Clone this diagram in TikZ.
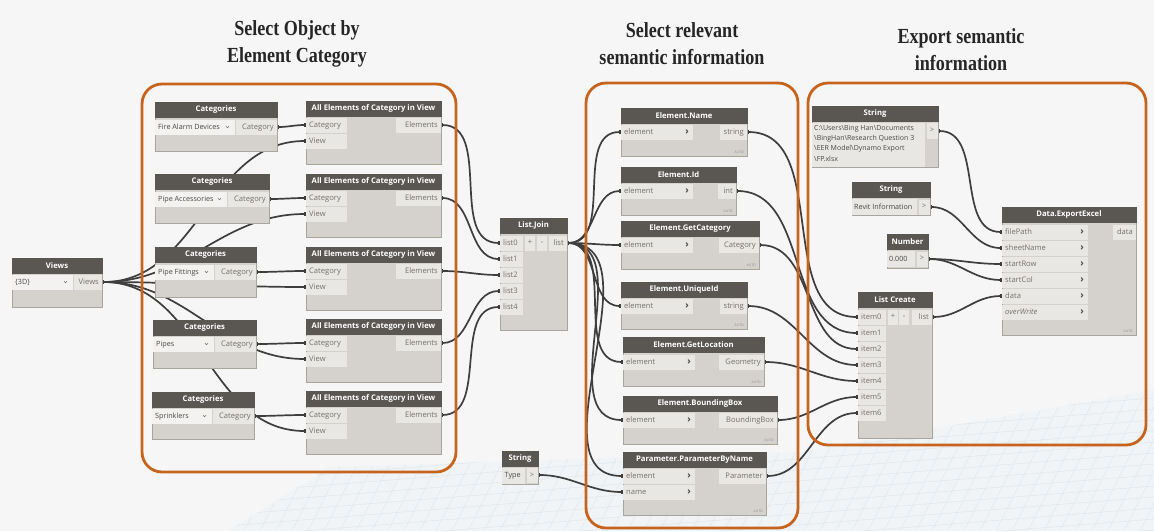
\documentclass[tikz,border=0pt]{standalone}
\usepackage{fontspec}
\setmainfont{Open Sans}
\newfontfamily\titlefont[FakeStretch=0.84]{Liberation Serif}
\usetikzlibrary{fit,arrows.meta,calc}

\definecolor{bgc}{HTML}{F6F6F6}
\definecolor{hdr}{HTML}{5A5753}
\definecolor{bodyc}{HTML}{D5D2CD}
\definecolor{portc}{HTML}{E9E7E3}
\definecolor{dropc}{HTML}{F3F2F0}
\definecolor{bord}{HTML}{A8A49E}
\definecolor{txtc}{HTML}{75716C}
\definecolor{darktxt}{HTML}{4A4845}
\definecolor{wirec}{HTML}{3E3E3E}
\definecolor{grpc}{HTML}{C6631D}
\definecolor{gridc}{HTML}{DCE4EA}
\definecolor{floorc}{HTML}{F1F4F6}

\pgfdeclarelayer{ground}
\pgfdeclarelayer{wires}
\pgfdeclarelayer{front}
\pgfsetlayers{ground,wires,main,front}

\tikzset{
  nbody/.style={fill=bodyc, draw=bord, line width=0.6pt, inner sep=0pt},
  nhead/.style={fill=hdr, draw=hdr, line width=0.6pt, inner sep=0pt},
  htxt/.style={text=white, inner sep=0pt, font=\bfseries\fontsize{7.7}{8}\selectfont},
  ptxt/.style={text=txtc, inner sep=0pt, text height=5.2pt, text depth=1.6pt,
    font=\fontsize{7.6}{8}\selectfont},
  dtxt/.style={ptxt, text=darktxt, font=\fontsize{7.2}{8}\selectfont},
  arrt/.style={text=darktxt, inner sep=0pt, font=\bfseries\fontsize{9.5}{9}\selectfont},
  autot/.style={text=txtc!80, inner sep=0pt, font=\fontsize{3.4}{4}\selectfont},
  chev/.style={draw=txtc, line width=0.5pt},
  wire/.style={draw=wirec, line width=1.7pt,
    {Rectangle[length=2pt,width=4.8pt]}-{Rectangle[length=2pt,width=4.8pt]}},
  grp/.style={draw=grpc, line width=2.8pt, rounded corners=20pt},
  ttl/.style={align=center, text=black!85, inner sep=0pt,
    font=\titlefont\bfseries\fontsize{21.5}{27}\selectfont},
  gridline/.style={draw=gridc, line width=0.4pt},
}

% a Dynamo node: name, x1, y1, x2, y2, title
\newcommand\dynode[6]{%
  \node[nbody, fit={(#2,#3) (#4,#5)}] (#1) {};
  \node[nhead, fit={(#2,#3) (#4,{#3+15})}] (#1-h) {};
  \node[htxt] at (#1-h.center) {#6};}
% input port: name, x1, y centre, x2, label
\newcommand\inport[5]{%
  \fill[portc] (#2,{#3-7.5}) rectangle (#4,{#3+7.5});
  \node[ptxt, anchor=base west] at ({#2+3},{#3+2.4}) {#5};
  \coordinate (#1) at (#2,#3);}
% input port with a chevron button
\newcommand\inportarr[5]{%
  \inport{#1}{#2}{#3}{#4}{#5}%
  \node[arrt] at ({#4-6},{#3-0.3}) {›};}
% output port: name, x1, y centre, x2, label
\newcommand\outport[5]{%
  \fill[portc] (#2,{#3-7.5}) rectangle (#4,{#3+7.5});
  \node[ptxt, anchor=base east] at ({#4-3},{#3+2.4}) {#5};
  \coordinate (#1) at (#4,#3);}
% drop-down field: x1, y centre, x2, text
\newcommand\dropfield[4]{%
  \fill[dropc] (#1,{#2-7.5}) rectangle (#3,{#2+7.5});
  \node[dtxt, anchor=base west] at ({#1+3},{#2+2.3}) {#4};
  \draw[chev] ({#3-9},{#2-0.8}) -- ({#3-7.5},{#2+0.7}) -- ({#3-6},{#2-0.8});}
% small button: x centre, y centre, half width, text
\newcommand\btn[4]{%
  \fill[portc] ({#1-#3},{#2-7.5}) rectangle ({#1+#3},{#2+7.5});
  \node[ptxt] at (#1,#2) {#4};}
\newcommand\autotag[2]{\node[autot, anchor=south east] at (#1,#2) {AUTO};}
\newcommand\wire[2]{\draw[wire] (#1) to[out=0,in=180] (#2);}

\begin{document}
\begin{tikzpicture}[x=1pt, y=-1pt]
\useasboundingbox (0,0) rectangle (1154,531);

\begin{pgfonlayer}{ground}
  \fill[bgc] (0,0) rectangle (1154,531);
  \begin{scope}
    \clip (228,531) -- (330,467) -- (800,452) -- (1154,390) -- (1154,531) -- cycle;
    \fill[floorc] (0,380) rectangle (1154,531);
    \foreach \k in {0,...,16} {
      \draw[gridline] (200,{462+\k*11}) -- (1154,{462+\k*11-75});
    }
    \foreach \k in {0,...,70} {
      \draw[gridline] ({\k*16+100},531) -- ++(110,-220);
    }
  \end{scope}
\end{pgfonlayer}

% ---------- Views ----------
\dynode{views}{12}{258}{102}{307}{Views}
\dropfield{12}{282}{73}{\{3D\}}
\outport{viewsout}{74}{282}{102}{Views}

% ---------- Categories ----------
\dynode{cat1}{155}{102}{277}{151}{Categories}
\dropfield{155}{127}{235}{Fire Alarm Devices}
\outport{cat1o}{236}{127}{277}{Category}

\dynode{cat2}{155}{174}{269}{223}{Categories}
\dropfield{155}{199}{227}{Pipe Accessories}
\outport{cat2o}{228}{199}{269}{Category}

\dynode{cat3}{155}{247}{256}{297}{Categories}
\dropfield{155}{272}{214}{Pipe Fittings}
\outport{cat3o}{215}{272}{256}{Category}

\dynode{cat4}{153}{320}{256}{368}{Categories}
\dropfield{153}{344}{214}{Pipes}
\outport{cat4o}{215}{344}{256}{Category}

\dynode{cat5}{152}{392}{254}{439}{Categories}
\dropfield{152}{416}{212}{Sprinklers}
\outport{cat5o}{213}{416}{254}{Category}

% ---------- All Elements of Category in View ----------
\foreach \i/\t in {1/101,2/174,3/247,4/319,5/391} {
  \dynode{ae\i}{306}{\t}{441}{\t+63}{All Elements of Category in View}
  \inport{ae\i c}{306}{\t+24}{347}{Category}
  \inport{ae\i v}{306}{\t+40}{347}{View}
  \outport{ae\i o}{396}{\t+24}{441}{Elements}
}

% ---------- List.Join ----------
\dynode{lj}{500}{218}{567}{330}{List.Join}
\foreach \i in {0,...,4} {
  \inport{lj\i}{500}{243+16*\i}{523}{list\i}
}
\btn{530}{243}{5}{+}
\btn{542}{243}{5}{-}
\outport{ljout}{549}{243}{567}{list}

% ---------- String (Type) ----------
\dynode{st}{502}{451}{538}{484}{String}
\fill[portc] (502,468) rectangle (525,483.5);
\node[dtxt, anchor=base west] at (504.5,477.5) {Type};
\btn{532}{475.5}{5.5}{>}
\coordinate (stout) at (538,475);

% ---------- Element nodes ----------
\dynode{en1}{621}{108}{747}{156}{Element.Name}
\inportarr{en1in}{621}{132}{693}{element}
\outport{en1out}{720}{132}{747}{string}
\autotag{744}{154}

\dynode{en2}{621}{167}{736}{215}{Element.Id}
\inportarr{en2in}{621}{191}{693}{element}
\outport{en2out}{718}{191}{736}{int}
\autotag{733}{213}

\dynode{en3}{621}{221}{759}{269}{Element.GetCategory}
\inportarr{en3in}{621}{245}{693}{element}
\outport{en3out}{719}{245}{759}{Category}
\autotag{756}{267}

\dynode{en4}{621}{282}{747}{329}{Element.UniqueId}
\inportarr{en4in}{621}{306}{693}{element}
\outport{en4out}{720}{306}{747}{string}
\autotag{744}{327}

\dynode{en5}{623}{337}{764}{386}{Element.GetLocation}
\inportarr{en5in}{623}{362}{695}{element}
\outport{en5out}{719}{362}{764}{Geometry}
\autotag{761}{384}

\dynode{en6}{623}{396}{777}{444}{Element.BoundingBox}
\inportarr{en6in}{623}{420}{695}{element}
\outport{en6out}{719}{420}{777}{BoundingBox}
\autotag{774}{442}

\dynode{en7}{623}{452}{766}{515}{Parameter.ParameterByName}
\inportarr{en7in}{623}{476}{695}{element}
\inportarr{en7nm}{623}{492}{695}{name}
\outport{en7out}{719}{476}{766}{Parameter}
\autotag{763}{513}

% ---------- String (file path) ----------
\dynode{sp}{812}{106}{938}{167}{String}
\fill[portc] (812,122.5) rectangle (925,166.5);
\node[ptxt, text=darktxt, anchor=north west, align=left, text height=, text depth=,
  font=\fontsize{7}{10.3}\selectfont] at (814,125)
  {C:\textbackslash Users\textbackslash Bing Han\textbackslash Documents\\
   \textbackslash BingHan\textbackslash Research Question 3\\
   \textbackslash EER Model\textbackslash Dynamo Export\\
   \textbackslash FP.xlsx};
\fill[portc] (926.5,123) rectangle (938,139);
\node[ptxt] at (932,131) {>};
\coordinate (spout) at (938,131);

% ---------- String (sheet name) ----------
\dynode{rv}{852}{182}{930}{215}{String}
\fill[portc] (852,199) rectangle (917,214.5);
\node[dtxt, anchor=base west] at (854,209.3) {Revit Information};
\btn{924}{207}{5.5}{>}
\coordinate (rvout) at (930,207);

% ---------- Number ----------
\dynode{num}{887}{234}{928}{268}{Number}
\fill[portc] (887,251) rectangle (915,266.5);
\node[dtxt, anchor=base west] at (889,261.5) {0.000};
\btn{922}{259}{5.5}{>}
\coordinate (numout) at (928,259);

% ---------- List Create ----------
\dynode{lc}{858}{292}{932}{438}{List Create}
\foreach \i in {0,...,6} {
  \inport{lc\i}{858}{317+16*\i}{886}{item\i}
}
\btn{893}{317}{5}{+}
\btn{904}{317}{5}{-}
\outport{lcout}{912}{317}{932}{list}

% ---------- Data.ExportExcel ----------
\dynode{xl}{1002}{207}{1136}{335}{Data.ExportExcel}
\inportarr{xl0}{1002}{232}{1088}{filePath}
\inportarr{xl1}{1002}{248}{1088}{sheetName}
\inportarr{xl2}{1002}{264}{1088}{startRow}
\inportarr{xl3}{1002}{280}{1088}{startCol}
\inportarr{xl4}{1002}{296}{1088}{data}
\inportarr{xl5}{1002}{312}{1088}{\itshape overWrite}
\outport{xlout}{1113}{232}{1136}{data}
\autotag{1133}{333}

% ---------- connectors ----------
\begin{pgfonlayer}{wires}
  \foreach \i in {1,...,5} {
    \wire{viewsout}{ae\i v}
    \wire{cat\i o}{ae\i c}
  }
  \wire{ae1o}{lj0}
  \wire{ae2o}{lj1}
  \wire{ae3o}{lj2}
  \wire{ae4o}{lj3}
  \wire{ae5o}{lj4}
  \foreach \i in {1,...,7} {
    \wire{ljout}{en\i in}
  }
  \wire{stout}{en7nm}
  \wire{en1out}{lc0}
  \wire{en2out}{lc1}
  \wire{en3out}{lc2}
  \wire{en4out}{lc3}
  \wire{en5out}{lc4}
  \wire{en6out}{lc5}
  \wire{en7out}{lc6}
  \wire{spout}{xl0}
  \wire{rvout}{xl1}
  \wire{numout}{xl2}
  \wire{numout}{xl3}
  \wire{lcout}{xl4}
\end{pgfonlayer}

% ---------- groups and titles ----------
\begin{pgfonlayer}{front}
  \draw[grp] (142,84) rectangle (456,472);
  \draw[grp] (586,83) rectangle (798,528);
  \draw[grp] (808,83) rectangle (1146,445);
  \node[ttl] (t1) at (297,44) {Select Object by\\Element Category};
  \node[ttl] (t2) at (682,44) {Select relevant\\semantic information};
  \node[ttl] (t3) at (961,50) {Export semantic\\information};
\end{pgfonlayer}
\end{tikzpicture}
\end{document}
